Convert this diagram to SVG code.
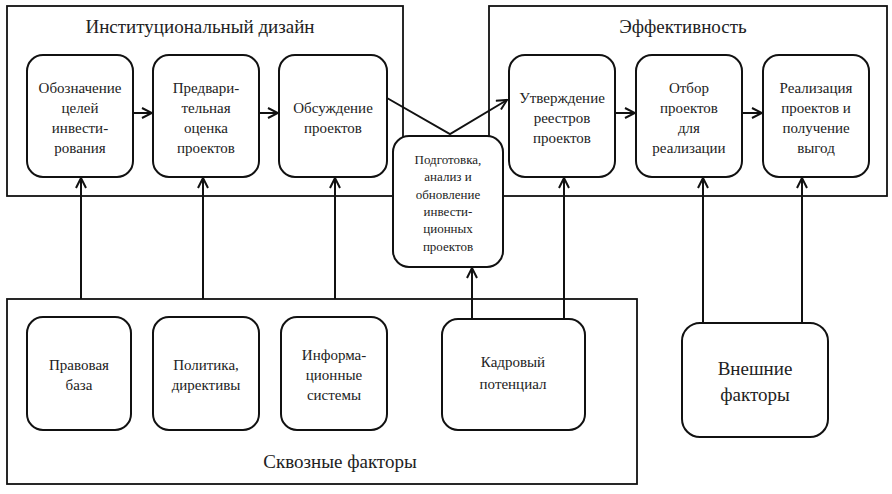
<svg xmlns="http://www.w3.org/2000/svg" width="892" height="494" viewBox="0 0 892 494">
<style>
.cont{fill:#fff;stroke:#111;stroke-width:1.8}
.box{fill:#fff;stroke:#111;stroke-width:2}
.ln{fill:none;stroke:#111;stroke-width:2}
text{font-family:"Liberation Serif","Times New Roman",serif;fill:#222;text-anchor:middle}
.t{font-size:15px}
.s{font-size:13px}
.h{font-size:19px}
</style>
<defs>
<marker id="ah" viewBox="0 0 12 12" refX="11" refY="6" markerWidth="12" markerHeight="12" markerUnits="userSpaceOnUse" orient="auto">
<path d="M1,1 L11,6 L1,11" fill="none" stroke="#111" stroke-width="2"/>
</marker>
</defs>
<rect width="892" height="494" fill="#fff"/>
<g id="container-institutional">
<rect class="cont" x="7" y="6" width="396" height="190"/>
<text class="h" x="200" y="33">Институциональный дизайн</text>
</g>
<g id="container-efficiency">
<rect class="cont" x="489" y="6" width="398" height="190"/>
<text class="h" x="683" y="33">Эффективность</text>
</g>
<g id="container-crosscutting">
<rect class="cont" x="7" y="299" width="630" height="185"/>
<text class="h" x="340" y="468">Сквозные факторы</text>
</g>
<g id="connectors">
<line class="ln" x1="133" y1="113" x2="152" y2="113" marker-end="url(#ah)"/>
<line class="ln" x1="259" y1="113" x2="278" y2="113" marker-end="url(#ah)"/>
<line class="ln" x1="615" y1="113" x2="635" y2="113" marker-end="url(#ah)"/>
<line class="ln" x1="742" y1="113" x2="762" y2="113" marker-end="url(#ah)"/>
<polyline class="ln" points="387,98 450,134 507,100" marker-end="url(#ah)"/>
<line class="ln" x1="81" y1="299" x2="81" y2="178" marker-end="url(#ah)"/>
<line class="ln" x1="203" y1="299" x2="203" y2="178" marker-end="url(#ah)"/>
<line class="ln" x1="335" y1="299" x2="335" y2="178" marker-end="url(#ah)"/>
<line class="ln" x1="472" y1="319" x2="472" y2="268" marker-end="url(#ah)"/>
<line class="ln" x1="564" y1="319" x2="564" y2="178" marker-end="url(#ah)"/>
<line class="ln" x1="703" y1="323" x2="703" y2="178" marker-end="url(#ah)"/>
<line class="ln" x1="802" y1="323" x2="802" y2="178" marker-end="url(#ah)"/>
</g>
<g id="n-goals">
<rect class="box" x="27" y="55" width="106" height="122" rx="16"/>
<text class="t" x="80" y="93">Обозначение</text>
<text class="t" x="80" y="113">целей</text>
<text class="t" x="80" y="133">инвести-</text>
<text class="t" x="80" y="153">рования</text>
</g>
<g id="n-prelim">
<rect class="box" x="153" y="55" width="106" height="122" rx="16"/>
<text class="t" x="206" y="93">Предвари-</text>
<text class="t" x="206" y="113">тельная</text>
<text class="t" x="206" y="133">оценка</text>
<text class="t" x="206" y="153">проектов</text>
</g>
<g id="n-discuss">
<rect class="box" x="279" y="55" width="108" height="122" rx="16"/>
<text class="t" x="333" y="113">Обсуждение</text>
<text class="t" x="333" y="133">проектов</text>
</g>
<g id="n-approve">
<rect class="box" x="509" y="55" width="106" height="122" rx="16"/>
<text class="t" x="562" y="103">Утверждение</text>
<text class="t" x="562" y="123">реестров</text>
<text class="t" x="562" y="143">проектов</text>
</g>
<g id="n-select">
<rect class="box" x="636" y="55" width="106" height="122" rx="16"/>
<text class="t" x="689" y="93">Отбор</text>
<text class="t" x="689" y="113">проектов</text>
<text class="t" x="689" y="133">для</text>
<text class="t" x="689" y="153">реализации</text>
</g>
<g id="n-realize">
<rect class="box" x="763" y="55" width="106" height="122" rx="16"/>
<text class="t" x="816" y="93">Реализация</text>
<text class="t" x="816" y="113">проектов и</text>
<text class="t" x="816" y="133">получение</text>
<text class="t" x="816" y="153">выгод</text>
</g>
<g id="n-prepare">
<rect class="box" x="393" y="136" width="110" height="131" rx="16"/>
<text class="s" x="448" y="164">Подготовка,</text>
<text class="s" x="448" y="181">анализ и</text>
<text class="s" x="448" y="199">обновление</text>
<text class="s" x="448" y="216">инвести-</text>
<text class="s" x="448" y="233">ционных</text>
<text class="s" x="448" y="251">проектов</text>
</g>
<g id="n-legal">
<rect class="box" x="27" y="317" width="104" height="113" rx="16"/>
<text class="t" x="79" y="370">Правовая</text>
<text class="t" x="79" y="390">база</text>
</g>
<g id="n-policy">
<rect class="box" x="153" y="317" width="106" height="113" rx="16"/>
<text class="t" x="206" y="370">Политика,</text>
<text class="t" x="206" y="390">директивы</text>
</g>
<g id="n-info">
<rect class="box" x="281" y="317" width="106" height="113" rx="16"/>
<text class="t" x="334" y="360">Информа-</text>
<text class="t" x="334" y="380">ционные</text>
<text class="t" x="334" y="400">системы</text>
</g>
<g id="n-staff">
<rect class="box" x="442" y="319" width="143" height="111" rx="16"/>
<text class="t" x="513" y="367">Кадровый</text>
<text class="t" x="513" y="389">потенциал</text>
</g>
<g id="n-external">
<rect class="box" x="682" y="323" width="146" height="114" rx="18"/>
<text class="h" x="755" y="375">Внешние</text>
<text class="h" x="755" y="401">факторы</text>
</g>
</svg>
